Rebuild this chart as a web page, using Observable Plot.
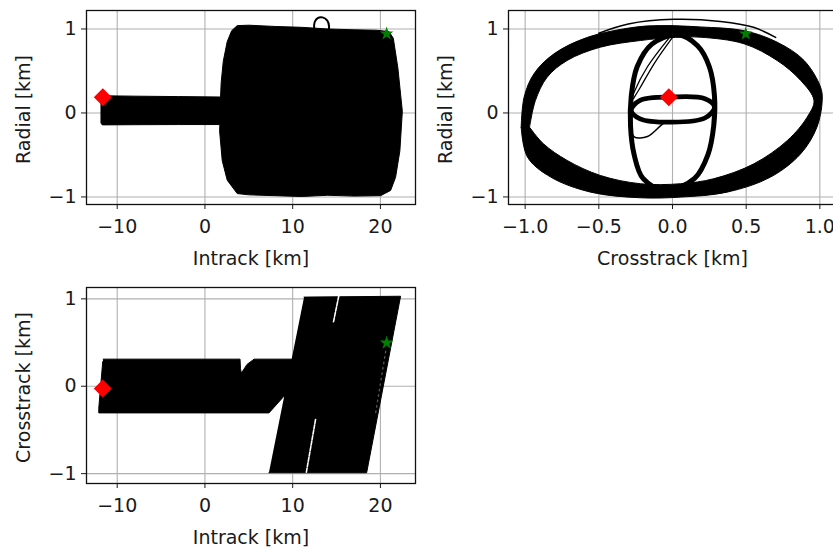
<!DOCTYPE html>
<html>
<head>
<meta charset="utf-8">
<script src="https://cdn.jsdelivr.net/npm/d3@7"></script>
<script src="https://cdn.jsdelivr.net/npm/@observablehq/plot@0.6"></script>
<style>
  html, body { margin: 0; padding: 0; background: #fff; }
  #figure { position: relative; width: 833px; height: 550px; overflow: hidden; background: #fff; }
  .panel { position: absolute; width: 420px; height: 270px; }
  .panel svg { max-width: none !important; display: block; }
</style>
</head>
<body>
<div id="figure">
  <div class="panel" id="p1" style="left:0px; top:0px;"></div>
  <div class="panel" id="p2" style="left:420px; top:0px;"></div>
  <div class="panel" id="p3" style="left:0px; top:280px;"></div>
</div>
<script>
// Relative-motion summary: start (red diamond) and end (green star) states, km
const startState = {intrack: -11.64, radial: 0.188, crosstrack: -0.025};
const endState = {intrack: 20.71, radial: 0.943, crosstrack: 0.497};

// Tick values
const intrackTicks = [-10, 0, 10, 20];
const radialTicks = [-1, 0, 1];
const crosstrackTicks = [-1, -0.5, 0, 0.5, 1];
const crosstrackAxisTicks = [-1, 0, 1];

// Intrack vs radial: envelope swept by the trajectory [intrack, radial]
const radialEnvelope = [
  [-11.8, 0.205], [-8, 0.2], [-3, 0.195], [1.78, 0.19],
  [1.85, 0.36], [2.09, 0.615], [2.54, 0.85], [3.05, 0.98], [3.68, 1.04],
  [5, 1.045], [8, 1.03], [11, 1.02], [14, 1.0], [17, 0.99], [19.5, 0.985], [20.97, 0.97],
  [21.47, 0.89], [21.99, 0.536], [22.5, 0.02], [22.22, -0.45], [21.73, -0.766], [21.16, -0.923], [20.02, -0.985],
  [17, -0.99], [14, -0.98], [11, -0.995], [8, -0.985], [5, -0.975], [3.68, -0.96],
  [2.54, -0.8], [1.97, -0.568], [1.67, -0.213], [1.7, -0.138],
  [-3, -0.138], [-8, -0.14], [-11.7, -0.142], [-11.85, -0.12], [-11.85, 0.17]
];
// Small excursion above the envelope [intrack, radial]
const radialLoop = [
  [12.45, 1.0], [12.5, 1.08], [12.85, 1.13], [13.4, 1.138], [13.95, 1.1], [14.15, 1.03], [14.1, 0.99]
];

// Crosstrack vs radial: outer band boundaries [crosstrack, radial]
const ringOuter = [
  [-1.027, -0.17], [-1.007, 0.188], [-0.94, 0.467], [-0.804, 0.705], [-0.577, 0.9], [-0.26, 1.02],
  [-0.08, 1.04], [0.19, 1.024], [0.485, 0.98], [0.71, 0.843], [0.893, 0.625], [1.005, 0.307],
  [1.016, 0.149], [0.98, -0.17], [0.87, -0.486], [0.665, -0.764], [0.37, -0.943], [0.054, -1.002],
  [-0.217, -1.01], [-0.555, -0.943], [-0.826, -0.764], [-0.984, -0.526]
];
const ringInner = [
  [-0.97, -0.17], [-0.876, -0.367], [-0.715, -0.565], [-0.49, -0.744], [-0.217, -0.843], [0.054, -0.843],
  [0.28, -0.783], [0.553, -0.605], [0.78, -0.327], [0.914, -0.05], [0.96, 0.149], [0.87, 0.387],
  [0.71, 0.625], [0.485, 0.824], [0.19, 0.902], [0.02, 0.9], [-0.217, 0.863], [-0.49, 0.783],
  [-0.715, 0.625], [-0.85, 0.427], [-0.93, 0.15]
];
// Tall inner loop and small flat loop [crosstrack, radial]
const tallLoop = [
  [0.03, 0.93], [0.17, 0.8], [0.25, 0.55], [0.285, 0.2], [0.28, -0.15], [0.24, -0.5], [0.15, -0.78],
  [-0.05, -0.925], [-0.2, -0.78], [-0.26, -0.5], [-0.285, -0.15], [-0.28, 0.2], [-0.24, 0.55], [-0.14, 0.82]
];
const flatLoop = [
  [-0.28, 0.03], [-0.22, 0.15], [0.0, 0.19], [0.22, 0.17], [0.285, 0.07], [0.22, -0.06], [0.0, -0.11], [-0.22, -0.07]
];
// Single transfer arcs [crosstrack, radial]
const arcTopA = [[0.0, 0.9], [-0.12, 0.6], [-0.22, 0.3], [-0.265, 0.17]];
const arcTopB = [[-0.02, 0.9], [-0.17, 0.55], [-0.26, 0.25], [-0.275, 0.17]];
const arcHook = [[-0.28, -0.17], [-0.26, -0.285], [-0.17, -0.28], [-0.08, -0.15], [-0.05, -0.11]];
const arcOver = [[-0.5, 0.95], [-0.3, 1.06], [0.01, 1.115], [0.326, 1.09], [0.55, 1.02], [0.7, 0.9]];

// Intrack vs crosstrack: swept regions [intrack, crosstrack]
const crossBand = [
  [-11.6, 0.31], [4.0, 0.31], [4.05, 0.2], [4.15, 0.15], [4.8, 0.25], [5.6, 0.31], [10.5, 0.31],
  [10.5, -0.115], [9.0, -0.115], [7.3, -0.305], [-12.1, -0.305], [-12.1, -0.25], [-11.65, 0.28]
];
const crossSlant = [[7.29, -0.99], [18.43, -0.99], [22.3, 1.03], [11.3, 1.02]];
const slantGapTop = [[15.25, 1.03], [14.63, 0.726]];
const slantGapBottom = [[12.61, -0.38], [11.55, -0.99]];
const slantTrace = [[20.6, 0.4], [19.45, -0.31]];

// Outer band drawn as one path: outer boundary, zero-width bridge, inner boundary reversed
const o0 = ringOuter[0], i0 = ringInner[0];
const ringPath = [...ringOuter, o0, o0, i0, i0, ...ringInner.slice(1), i0, i0, o0, o0];

const px = d => d[0], py = d => d[1];
const font = "DejaVu Sans";
const ink = "#1a1a1a";
const gridStyle = {stroke: "#b0b0b0", strokeWidth: 1.1};
const intFormat = d3.format("d");

function panel({xDomain, yDomain, xTicks, yTicks, xFormat, margins, xLabel, yLabel, marks}) {
  return Plot.plot({
    width: 420,
    height: 270,
    marginLeft: margins[0], marginTop: margins[1], marginRight: margins[2], marginBottom: margins[3],
    style: {fontFamily: font, fontSize: "19px", color: ink, background: "transparent", overflow: "visible"},
    x: {domain: xDomain, ticks: xTicks, tickFormat: xFormat ?? intFormat, tickSize: 5, tickPadding: 10, label: null},
    y: {domain: yDomain, ticks: yTicks, tickFormat: intFormat, tickSize: 5, tickPadding: 5, label: null},
    marks: [
      Plot.ruleX(xTicks, gridStyle),
      Plot.ruleY(yTicks, gridStyle),
      ...marks,
      Plot.frame({stroke: "#111", strokeWidth: 1.3}),
      Plot.text([xLabel], {text: d => d, frameAnchor: "bottom", textAnchor: "middle", lineAnchor: "middle", dy: 54, fill: ink}),
      Plot.text([yLabel], {text: d => d, frameAnchor: "left", textAnchor: "middle", lineAnchor: "middle", rotate: -90, dx: -63, dy: 2, fill: ink})
    ]
  });
}

const diamond = (x, y) => Plot.dot([[x, y]], {x: px, y: py, symbol: "diamond2", r: 8.1, fill: "#ff0000", stroke: "none"});
const star = (x, y) => Plot.dot([[x, y]], {x: px, y: py, symbol: "star", r: 4.3, fill: "#008000", stroke: "none"});

document.getElementById("p1").append(panel({
  xDomain: [-13.5, 24.0], yDomain: [-1.09, 1.22],
  xTicks: intrackTicks, yTicks: radialTicks,
  margins: [86, 10, 5, 66],
  xLabel: "Intrack [km]", yLabel: "Radial [km]",
  marks: [
    Plot.line(radialEnvelope, {x: px, y: py, fill: "black", stroke: "black", strokeWidth: 1, strokeLinejoin: "round"}),
    Plot.line(radialLoop, {x: px, y: py, stroke: "black", strokeWidth: 2, curve: "catmull-rom"}),
    diamond(startState.intrack, startState.radial),
    star(endState.intrack, endState.radial)
  ]
}));

document.getElementById("p2").append(panel({
  xDomain: [-1.113, 1.113], yDomain: [-1.09, 1.22],
  xTicks: crosstrackTicks, yTicks: radialTicks, xFormat: d3.format(".1f"),
  margins: [88, 10, 4, 66],
  xLabel: "Crosstrack [km]", yLabel: "Radial [km]",
  marks: [
    Plot.line(ringPath, {x: px, y: py, fill: "black", stroke: "black", strokeWidth: 1, curve: "catmull-rom"}),
    Plot.line(arcOver, {x: px, y: py, stroke: "black", strokeWidth: 1.5, curve: "catmull-rom"}),
    Plot.line(tallLoop, {x: px, y: py, stroke: "black", strokeWidth: 5, curve: "catmull-rom-closed"}),
    Plot.line(flatLoop, {x: px, y: py, stroke: "black", strokeWidth: 4.8, curve: "catmull-rom-closed"}),
    Plot.line(arcTopA, {x: px, y: py, stroke: "black", strokeWidth: 1.3, curve: "catmull-rom"}),
    Plot.line(arcTopB, {x: px, y: py, stroke: "black", strokeWidth: 1.3, curve: "catmull-rom"}),
    Plot.line(arcHook, {x: px, y: py, stroke: "black", strokeWidth: 1.5, curve: "catmull-rom"}),
    diamond(startState.crosstrack, startState.radial),
    star(endState.crosstrack, endState.radial)
  ]
}));

document.getElementById("p3").append(panel({
  xDomain: [-13.5, 24.0], yDomain: [-1.113, 1.13],
  xTicks: intrackTicks, yTicks: crosstrackAxisTicks,
  margins: [86, 7, 5, 67],
  xLabel: "Intrack [km]", yLabel: "Crosstrack [km]",
  marks: [
    Plot.line(crossBand, {x: px, y: py, fill: "black", stroke: "black", strokeWidth: 1, strokeLinejoin: "round"}),
    Plot.line(crossSlant, {x: px, y: py, fill: "black", stroke: "black", strokeWidth: 1, strokeLinejoin: "round"}),
    Plot.line(slantGapTop, {x: px, y: py, stroke: "white", strokeWidth: 1.6, strokeDasharray: "4,1.5"}),
    Plot.line(slantGapBottom, {x: px, y: py, stroke: "white", strokeWidth: 1.6, strokeDasharray: "4,1.5"}),
    Plot.line(slantTrace, {x: px, y: py, stroke: "#555", strokeWidth: 1.4, strokeDasharray: "1.5,4"}),
    diamond(startState.intrack, startState.crosstrack),
    star(endState.intrack, endState.crosstrack)
  ]
}));
</script>
</body>
</html>
